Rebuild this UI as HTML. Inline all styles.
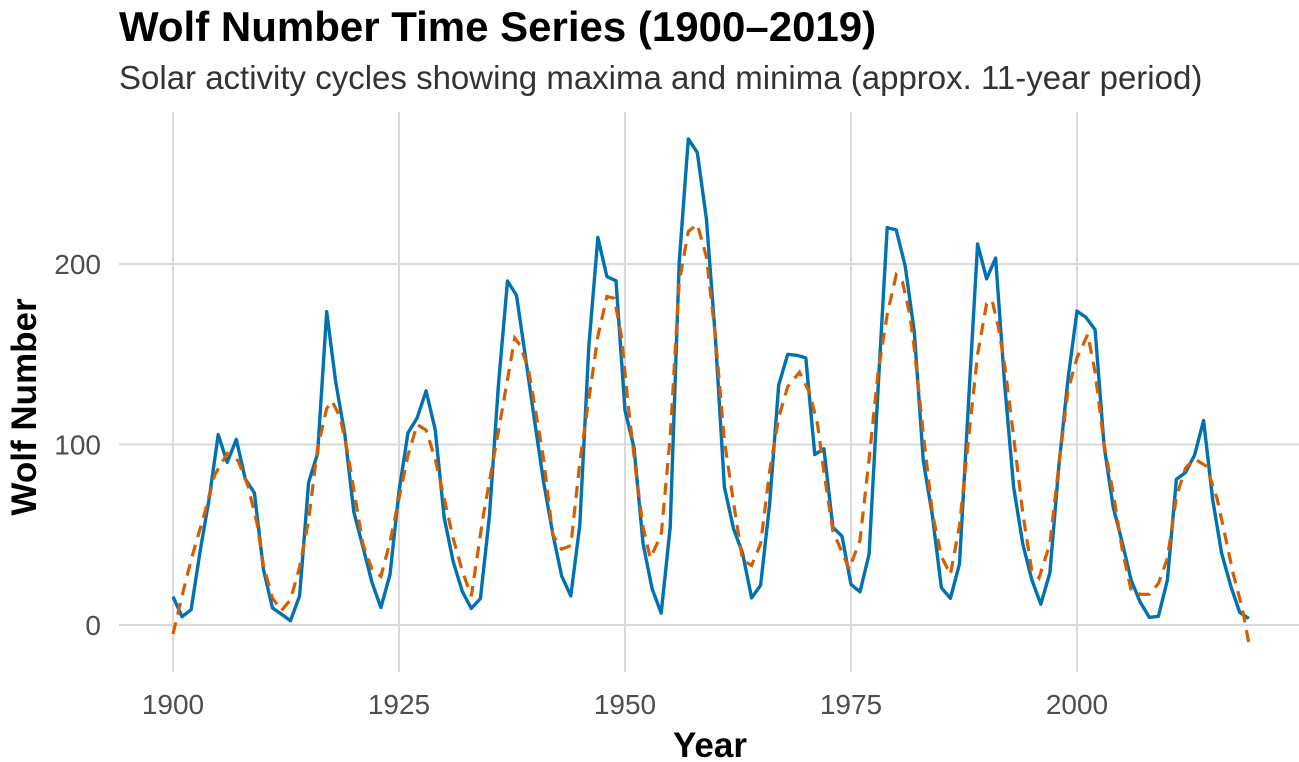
<!DOCTYPE html>
<html><head><meta charset="utf-8"><style>
body{margin:0;background:#fff;}
svg{display:block;font-family:"Liberation Sans",Arial,sans-serif;}
</style></head><body>
<svg id="chart" width="1299" height="762" viewBox="0 0 1299 762">
<text x="119" y="41" font-size="42" font-weight="bold" fill="#000">Wolf Number Time Series (1900–2019)</text>
<text x="119" y="89" font-size="33" fill="#333">Solar activity cycles showing maxima and minima (approx. 11-year period)</text>
<g id="grid"></g>
<g id="ylabels"></g>
<g id="xlabels"></g>
<g id="series"></g>
<text x="710" y="757" font-size="35" font-weight="bold" text-anchor="middle" fill="#000">Year</text>
<text transform="translate(36,407) rotate(-90)" font-size="35" font-weight="bold" text-anchor="middle" fill="#000">Wolf Number</text>
</svg>
<script>
const years = [];
for (let y = 1900; y <= 2019; y++) years.push(y);
const wolf = [15.7,4.6,8.5,40.8,70.1,105.5,90.1,102.8,80.9,73.2,30.9,9.5,6.0,2.4,16.1,79.0,95.0,173.6,134.6,105.7,62.7,43.5,23.7,9.7,27.9,74.0,106.5,114.7,129.7,108.2,59.4,35.1,18.6,9.2,14.6,60.2,132.8,190.6,182.6,148.0,113.0,79.2,50.8,27.1,16.1,55.3,154.3,214.7,193.0,190.7,118.9,98.3,45.0,20.1,6.6,54.2,200.7,269.3,261.7,225.1,159.0,76.4,53.4,39.9,15.0,22.0,66.8,132.9,150.0,149.4,148.0,94.4,97.6,54.1,49.2,22.5,18.4,39.3,131.0,220.1,218.9,198.9,162.4,91.0,60.5,20.6,14.8,33.9,123.0,211.1,191.8,203.3,133.0,76.1,44.9,25.1,11.6,28.9,88.3,136.3,173.9,170.4,163.6,99.3,65.3,45.8,24.7,12.6,4.2,4.8,24.9,80.8,84.5,94.0,113.3,69.8,39.8,21.7,7.0,3.6];
const trendYears = [1900,1901,1902,1903.5,1904.6,1906,1907.2,1908.3,1909.3,1910,1911,1912,1913,1914,1915,1916,1917,1917.6,1918.5,1919.3,1920,1921,1922,1923,1924,1925,1926,1927,1928,1929,1930,1931,1932,1933,1934.3,1935.2,1936.2,1937,1937.8,1938.4,1939.3,1940,1941,1942,1943,1944,1945,1946,1947,1948,1948.8,1949.6,1950.4,1951.2,1952,1952.8,1954,1955,1956,1957,1958,1959,1960,1961,1962,1963,1964,1965,1966,1967,1968,1969.3,1970.4,1971.3,1972,1973,1974.8,1976,1977,1978,1979,1980,1980.7,1981.5,1982,1983,1984,1985,1986,1987,1988,1989,1990,1990.6,1991.3,1992,1993,1994,1995,1995.8,1997,1998,1999,2000,2001.2,2002,2003,2004,2005,2006,2007,2008,2009,2010,2011,2012,2013,2014.3,2015.5,2016.4,2017.3,2018.3,2019];
const trendValues = [-5,16,36,62,83,95,91,77,56,33,15,8,14,32,58,98,120,124,115,96,75,45,31,27,46,70,94,111,108,92,70,48,30,16,60,85,113,136,159,155,142,122,92,50,42,44,90,125,160,182,181,160,120,85,54,37,50,104,190,218,222,204,160,102,68,36,33,45,85,115,132,140,129,111,85,52,31,47,92,140,172,194,190,172,153,106,62,38,28,55,103,150,178,180,165,144,104,62,30,26,45,89,130,148,161,140,100,73,42,19,17,17,23,37,71,87,92,88,70,49,28,9,-10];
const yTicks = [0,100,200];
const xTicks = [1900,1925,1950,1975,2000];

const NS = "http://www.w3.org/2000/svg";
const X0 = 119, X1 = 1299, Y0 = 112, Y1 = 672;
function xs(v){ return 173 + (v - 1900) * 9.04; }
function ys(v){ return 625 - v * 1.805; }
function mk(tag, attrs, parent){ const e = document.createElementNS(NS, tag); for (const k in attrs) e.setAttribute(k, attrs[k]); parent.appendChild(e); return e; }

const grid = document.getElementById('grid');
const yl = document.getElementById('ylabels');
const xl = document.getElementById('xlabels');
const series = document.getElementById('series');

yTicks.forEach(t => {
  const l = mk('line', {x1:X0, x2:X1, y1:ys(t), y2:ys(t), stroke:'#d9d9d9', 'stroke-width':2}, grid);
  
  
  const tx = mk('text', {x:101, y:ys(t)+10, 'font-size':28, fill:'#4d4d4d', 'text-anchor':'end'}, yl);
  tx.textContent = t;
  
  
});
xTicks.forEach(t => {
  const l = mk('line', {x1:xs(t), x2:xs(t), y1:Y0, y2:Y1, stroke:'#d9d9d9', 'stroke-width':2}, grid);
  
  
  const tx = mk('text', {x:xs(t), y:714, 'font-size':28, fill:'#4d4d4d', 'text-anchor':'middle'}, xl);
  tx.textContent = t;
  
  
});

const blue = mk('path', {d: years.map((y,i)=>(i?'L':'M')+xs(y).toFixed(1)+','+ys(wolf[i]).toFixed(1)).join(''), fill:'none', stroke:'#0072B2', 'stroke-width':3.4, 'stroke-linejoin':'round'}, series);


const orange = mk('path', {d: trendYears.map((y,i)=>(i?'L':'M')+xs(y).toFixed(1)+','+ys(trendValues[i]).toFixed(1)).join(''), fill:'none', stroke:'#D55E00', 'stroke-width':3.2, 'stroke-dasharray':'12 8'}, series);


</script>
</body></html>
